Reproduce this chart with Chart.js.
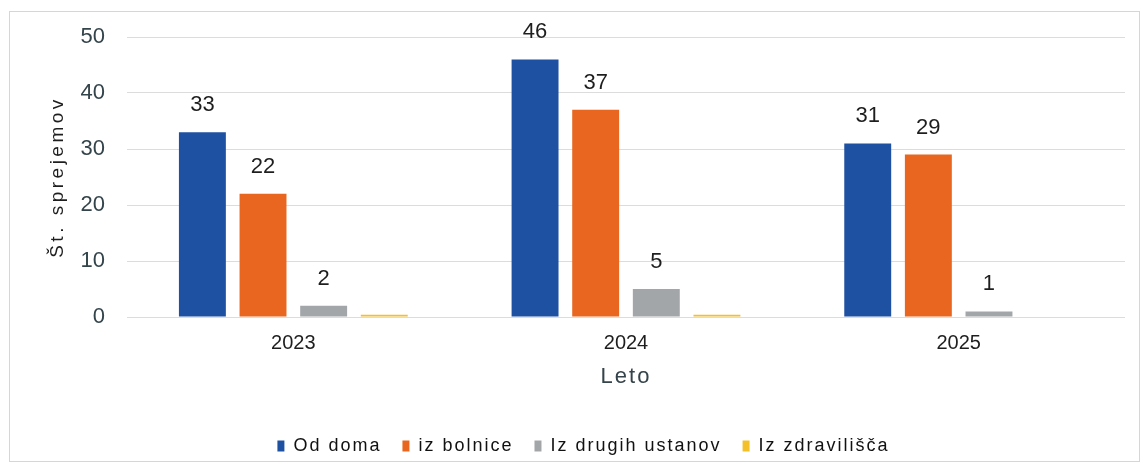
<!DOCTYPE html>
<html><head><meta charset="utf-8">
<script src="https://cdn.jsdelivr.net/npm/chart.js@4/dist/chart.umd.min.js"></script>
<style>
html,body{margin:0;padding:0;background:#fff;}
#frame{position:absolute;left:9px;top:11px;width:1131px;height:451px;border:1px solid #d6d6d6;box-sizing:border-box;}
#c{position:absolute;left:0;top:0;}
</style></head><body>
<div id="frame"><canvas id="c" width="1129" height="449"></canvas></div>
<script>
const categories = ["2023", "2024", "2025"];
const odDoma = [33, 46, 31];
const izBolnice = [22, 37, 29];
const izDrugihUstanov = [2, 5, 1];
const izZdravilisca = [0.4, 0.4, 0];
const seriesNames = ["Od doma", "iz bolnice", "Iz drugih ustanov", "Iz zdravilišča"];
const showLabels = [true, true, true, false];
const colors = ["#1f51a3", "#e8661f", "#a2a6a8", "#f3c029"];
const yTicks = [0, 10, 20, 30, 40, 50];

const FONT = '"Liberation Sans", Arial, sans-serif';

const valueLabels = {
  id: 'valueLabels',
  afterDatasetsDraw(chart) {
    const ctx = chart.ctx;
    ctx.save();
    ctx.font = '22px ' + FONT;
    ctx.fillStyle = '#1e1e1e';
    ctx.textAlign = 'center';
    ctx.textBaseline = 'middle';
    chart.data.datasets.forEach((ds, i) => {
      if (!showLabels[i]) return;
      const meta = chart.getDatasetMeta(i);
      meta.data.forEach((bar, j) => {
        ctx.fillText(String(ds.data[j]), bar.x, bar.y - 27);
      });
    });
    ctx.restore();
  }
};

function wrapSpacing(obj, method, spacing, after) {
  if (!obj || obj['__w_' + method]) return;
  const orig = obj[method].bind(obj);
  obj[method] = function (...args) {
    const ctx = obj.ctx;
    ctx.save();
    ctx.letterSpacing = spacing;
    const r = orig(...args);
    ctx.restore();
    if (after) after.call(obj);
    return r;
  };
  obj['__w_' + method] = true;
}

const textSpacing = {
  id: 'textSpacing',
  afterInit(chart) {
    wrapSpacing(chart.legend, 'fit', '2px', function () { this.height -= 4; });
    wrapSpacing(chart.legend, 'draw', '2px');
  },
  beforeDraw(chart) {
    wrapSpacing(chart.scales.y, 'drawTitle', '3.5px');
    wrapSpacing(chart.scales.x, 'drawTitle', '2px');
  }
};

const allSeries = [odDoma, izBolnice, izDrugihUstanov, izZdravilisca];
new Chart(document.getElementById('c'), {
  type: 'bar',
  data: {
    labels: categories,
    datasets: allSeries.map((d, i) => ({
      label: seriesNames[i], data: d, backgroundColor: colors[i],
      categoryPercentage: 0.729, barPercentage: 0.774
    }))
  },
  plugins: [valueLabels, textSpacing],
  options: {
    responsive: false, animation: false,
    layout: { padding: { left: 32, right: 14, top: 25, bottom: 0 } },
    plugins: {
      tooltip: { enabled: false },
      legend: {
        position: 'bottom',
        labels: {
          color: '#111', font: { size: 18, family: FONT },
          boxWidth: 7, boxHeight: 11, padding: 21
        }
      }
    },
    scales: {
      x: {
        grid: { display: false },
        border: { display: false },
        ticks: { color: '#1e1e1e', font: { size: 20, family: FONT }, padding: 6 },
        title: { display: true, text: 'Leto', color: '#34444a', font: { size: 22, family: FONT }, padding: { top: 9, bottom: 26 } },
        afterFit(scale) { scale.height = 99; }
      },
      y: {
        min: 0, max: 50,
        afterBuildTicks(scale) { scale.ticks = yTicks.map(v => ({ value: v })); },
        grid: { color: '#dcdcdc', drawTicks: false },
        border: { display: false },
        ticks: { color: '#33444a', font: { size: 22, family: FONT }, padding: 22 },
        title: { display: true, text: 'Št. sprejemov', color: '#1e1e1e', font: { size: 19, family: FONT }, padding: { top: 4, bottom: 0 } },
        afterFit(scale) { scale.width = 85; scale.paddingTop = 14; scale.paddingBottom = 14; }
      }
    }
  }
});
</script>
</body></html>
